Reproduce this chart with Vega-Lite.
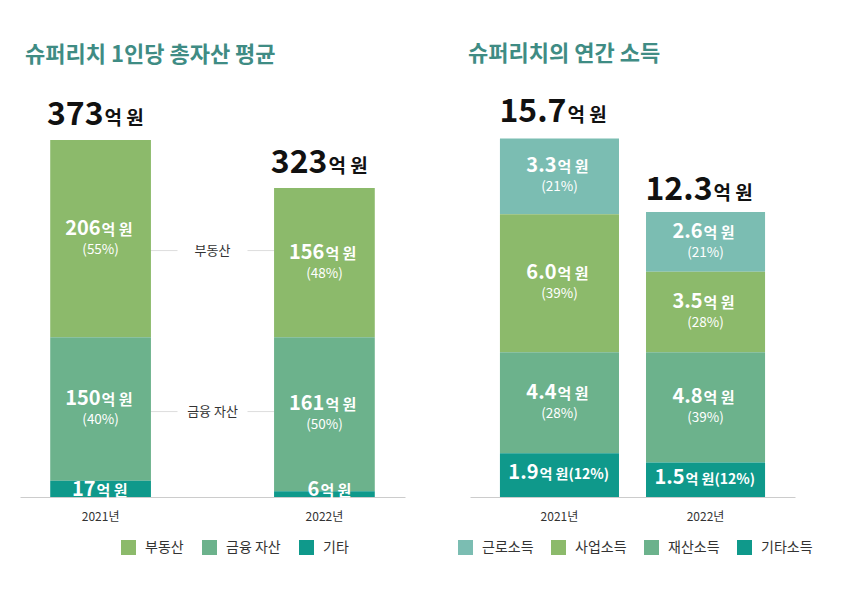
{
  "$schema": "https://vega.github.io/schema/vega-lite/v6.json",
  "background": "white",
  "padding": {"left": 20, "top": 43, "right": 20, "bottom": 10},
  "spacing": 53,
  "datasets": {
    "assets": [
      {"year": "2021년", "cat": "부동산", "v": 206, "pct": "(55%)"},
      {"year": "2021년", "cat": "금융 자산", "v": 150, "pct": "(40%)"},
      {"year": "2021년", "cat": "기타", "v": 17, "pct": ""},
      {"year": "2022년", "cat": "부동산", "v": 156, "pct": "(48%)"},
      {"year": "2022년", "cat": "금융 자산", "v": 161, "pct": "(50%)"},
      {"year": "2022년", "cat": "기타", "v": 6, "pct": ""}
    ],
    "assetTotals": [
      {"year": "2021년", "total": 373},
      {"year": "2022년", "total": 323}
    ],
    "income": [
      {"year": "2021년", "cat": "근로소득", "v": 3.3, "pct": "(21%)"},
      {"year": "2021년", "cat": "사업소득", "v": 6.0, "pct": "(39%)"},
      {"year": "2021년", "cat": "재산소득", "v": 4.4, "pct": "(28%)"},
      {"year": "2021년", "cat": "기타소득", "v": 1.9, "pct": "(12%)"},
      {"year": "2022년", "cat": "근로소득", "v": 2.6, "pct": "(21%)"},
      {"year": "2022년", "cat": "사업소득", "v": 3.5, "pct": "(28%)"},
      {"year": "2022년", "cat": "재산소득", "v": 4.8, "pct": "(39%)"},
      {"year": "2022년", "cat": "기타소득", "v": 1.5, "pct": "(12%)"}
    ],
    "incomeTotals": [
      {"year": "2021년", "total": 15.7},
      {"year": "2022년", "total": 12.3}
    ]
  },
  "hconcat": [
    {
      "width": 385,
      "height": 400,
      "title": {"text": "슈퍼리치 1인당 총자산 평균", "anchor": "start", "frame": "group", "fontSize": 22, "fontWeight": "bold", "color": "#3f8c84", "offset": 30, "dx": 5},
      "encoding": {
        "x": {
          "field": "year", "type": "nominal", "title": null,
          "scale": {"domain": ["2021년", "mid", "2022년"], "paddingInner": 0.1, "paddingOuter": 0.27},
          "axis": {"labelExpr": "datum.value == 'mid' ? '' : datum.value", "labelAngle": 0, "ticks": false, "domainColor": "#cccccc", "labelFontSize": 12, "labelColor": "#333333", "labelPadding": 14}
        }
      },
      "layer": [
        {
          "data": {"name": "assets"},
          "transform": [
            {"calculate": "indexof(['기타','금융 자산','부동산'], datum.cat)", "as": "ord"},
            {"stack": "v", "groupby": ["year"], "sort": [{"field": "ord"}], "as": ["v0", "v1"]},
            {"calculate": "(datum.v0+datum.v1)/2", "as": "mid"},
            {"aggregate": [{"op": "mean", "field": "mid", "as": "mid"}], "groupby": ["cat"]},
            {"filter": "datum.cat != '기타'"}
          ],
          "mark": {"type": "rule", "color": "#dddddd", "strokeWidth": 1},
          "encoding": {
            "x": {"datum": "2021년", "type": "nominal"},
            "x2": {"datum": "2022년"},
            "y": {"field": "mid", "type": "quantitative", "scale": {"domain": [0, 418]}, "axis": null}
          }
        },
        {
          "data": {"name": "assets"},
          "transform": [
            {"calculate": "indexof(['기타','금융 자산','부동산'], datum.cat)", "as": "ord"},
            {"stack": "v", "groupby": ["year"], "sort": [{"field": "ord"}], "as": ["v0", "v1"]}
          ],
          "mark": {"type": "bar"},
          "encoding": {
            "y": {"field": "v1", "type": "quantitative", "scale": {"domain": [0, 418]}, "axis": null},
            "y2": {"field": "v0"},
            "color": {
              "field": "cat", "type": "nominal",
              "scale": {"domain": ["부동산", "금융 자산", "기타"], "range": ["#8cba6b", "#6cb28c", "#0f998b"]},
              "legend": {"orient": "none", "legendX": 101, "legendY": 443, "direction": "horizontal", "title": null, "symbolType": "square", "symbolSize": 225, "symbolStrokeWidth": 0, "labelFontSize": 14, "labelColor": "#333333", "columnPadding": 18, "labelOffset": 9}
            }
          }
        },
        {
          "data": {"name": "assets"},
          "transform": [
            {"calculate": "indexof(['기타','금융 자산','부동산'], datum.cat)", "as": "ord"},
            {"stack": "v", "groupby": ["year"], "sort": [{"field": "ord"}], "as": ["v0", "v1"]},
            {"calculate": "(datum.v0+datum.v1)/2", "as": "mid"},
            {"aggregate": [{"op": "mean", "field": "mid", "as": "mid"}], "groupby": ["cat"]},
            {"filter": "datum.cat != '기타'"}
          ],
          "mark": {"type": "point", "shape": "M-1,-0.3L1,-0.3L1,0.3L-1,0.3Z", "filled": true, "color": "white", "opacity": 1, "size": 4900},
          "encoding": {
            "x": {"datum": "mid", "type": "nominal"},
            "y": {"field": "mid", "type": "quantitative", "scale": {"domain": [0, 418]}}
          }
        },
        {
          "data": {"name": "assets"},
          "transform": [
            {"calculate": "indexof(['기타','금융 자산','부동산'], datum.cat)", "as": "ord"},
            {"stack": "v", "groupby": ["year"], "sort": [{"field": "ord"}], "as": ["v0", "v1"]},
            {"calculate": "(datum.v0+datum.v1)/2", "as": "mid"},
            {"aggregate": [{"op": "mean", "field": "mid", "as": "mid"}], "groupby": ["cat"]},
            {"filter": "datum.cat != '기타'"}
          ],
          "mark": {"type": "text", "fontSize": 13, "color": "#333333"},
          "encoding": {
            "x": {"datum": "mid", "type": "nominal"},
            "y": {"field": "mid", "type": "quantitative", "scale": {"domain": [0, 418]}},
            "text": {"field": "cat"}
          }
        },
        {
          "data": {"name": "assets"},
          "transform": [
            {"calculate": "indexof(['기타','금융 자산','부동산'], datum.cat)", "as": "ord"},
            {"stack": "v", "groupby": ["year"], "sort": [{"field": "ord"}], "as": ["v0", "v1"]},
            {"calculate": "(datum.v0+datum.v1)/2", "as": "mid"},
            {"filter": "datum.cat != '기타'"}
          ],
          "layer": [
            {
              "mark": {"type": "text", "fontSize": 20, "fontWeight": "bold", "color": "white", "align": "right", "baseline": "alphabetic", "dx": 0, "dy": -4},
              "encoding": {"text": {"field": "v", "format": "d"}}
            },
            {
              "mark": {"type": "text", "text": "억 원", "fontSize": 15, "fontWeight": "bold", "color": "white", "align": "left", "baseline": "alphabetic", "dx": 1, "dy": -4}
            },
            {
              "mark": {"type": "text", "fontSize": 13.5, "color": "white", "baseline": "middle", "dy": 11},
              "encoding": {"text": {"field": "pct"}}
            }
          ],
          "encoding": {
            "y": {"field": "mid", "type": "quantitative", "scale": {"domain": [0, 418]}}
          }
        },
        {
          "data": {"name": "assets"},
          "transform": [
            {"calculate": "indexof(['기타','금융 자산','부동산'], datum.cat)", "as": "ord"},
            {"stack": "v", "groupby": ["year"], "sort": [{"field": "ord"}], "as": ["v0", "v1"]},
            {"filter": "datum.cat == '기타'"},
            {"calculate": "max((datum.v0+datum.v1)/2, 8.5)", "as": "mid"}
          ],
          "layer": [
            {
              "mark": {"type": "text", "fontSize": 20, "fontWeight": "bold", "color": "white", "align": "right", "baseline": "alphabetic", "dx": -5, "dy": 7},
              "encoding": {"text": {"field": "v", "format": "d"}}
            },
            {
              "mark": {"type": "text", "text": "억 원", "fontSize": 15, "fontWeight": "bold", "color": "white", "align": "left", "baseline": "alphabetic", "dx": -4, "dy": 7}
            }
          ],
          "encoding": {
            "y": {"field": "mid", "type": "quantitative", "scale": {"domain": [0, 418]}}
          }
        },
        {
          "data": {"name": "assetTotals"},
          "layer": [
            {
              "mark": {"type": "text", "fontSize": 32, "fontWeight": "bold", "color": "#111111", "align": "right", "baseline": "alphabetic", "dx": 3, "dy": -15},
              "encoding": {"text": {"field": "total", "format": "d"}}
            },
            {
              "mark": {"type": "text", "text": "억 원", "fontSize": 19, "fontWeight": "bold", "color": "#111111", "align": "left", "baseline": "alphabetic", "dx": 4, "dy": -15}
            }
          ],
          "encoding": {
            "y": {"field": "total", "type": "quantitative", "scale": {"domain": [0, 418]}}
          }
        }
      ]
    },
    {
      "width": 325,
      "height": 400,
      "title": {"text": "슈퍼리치의 연간 소득", "anchor": "start", "frame": "group", "fontSize": 22, "fontWeight": "bold", "color": "#3f8c84", "offset": 30, "dx": -2},
      "encoding": {
        "x": {
          "field": "year", "type": "nominal", "title": null,
          "scale": {"domain": ["2021년", "2022년"], "paddingInner": 0.185, "paddingOuter": 0.205},
          "axis": {"labelAngle": 0, "ticks": false, "domainColor": "#cccccc", "labelFontSize": 12, "labelColor": "#333333", "labelPadding": 14}
        }
      },
      "layer": [
        {
          "data": {"name": "income"},
          "transform": [
            {"calculate": "indexof(['기타소득','재산소득','사업소득','근로소득'], datum.cat)", "as": "ord"},
            {"stack": "v", "groupby": ["year"], "sort": [{"field": "ord"}], "as": ["v0", "v1"]}
          ],
          "mark": {"type": "bar"},
          "encoding": {
            "y": {"field": "v1", "type": "quantitative", "scale": {"domain": [0, 17.4]}, "axis": null},
            "y2": {"field": "v0"},
            "color": {
              "field": "cat", "type": "nominal",
              "scale": {"domain": ["근로소득", "사업소득", "재산소득", "기타소득"], "range": ["#7bbdb2", "#8cba6b", "#6cb28c", "#0f998b"]},
              "legend": {"orient": "none", "legendX": -12, "legendY": 443, "direction": "horizontal", "title": null, "symbolType": "square", "symbolSize": 225, "symbolStrokeWidth": 0, "labelFontSize": 14, "labelColor": "#333333", "columnPadding": 17, "labelOffset": 9}
            }
          }
        },
        {
          "data": {"name": "income"},
          "transform": [
            {"calculate": "indexof(['기타소득','재산소득','사업소득','근로소득'], datum.cat)", "as": "ord"},
            {"stack": "v", "groupby": ["year"], "sort": [{"field": "ord"}], "as": ["v0", "v1"]},
            {"calculate": "(datum.v0+datum.v1)/2", "as": "mid"},
            {"filter": "datum.cat != '기타소득'"}
          ],
          "layer": [
            {
              "mark": {"type": "text", "fontSize": 20, "fontWeight": "bold", "color": "white", "align": "right", "baseline": "alphabetic", "dx": -3, "dy": -4},
              "encoding": {"text": {"field": "v", "format": ".1f"}}
            },
            {
              "mark": {"type": "text", "text": "억 원", "fontSize": 15, "fontWeight": "bold", "color": "white", "align": "left", "baseline": "alphabetic", "dx": -2, "dy": -4}
            },
            {
              "mark": {"type": "text", "fontSize": 13.5, "color": "white", "baseline": "middle", "dy": 11},
              "encoding": {"text": {"field": "pct"}}
            }
          ],
          "encoding": {
            "y": {"field": "mid", "type": "quantitative", "scale": {"domain": [0, 17.4]}}
          }
        },
        {
          "data": {"name": "income"},
          "transform": [
            {"calculate": "indexof(['기타소득','재산소득','사업소득','근로소득'], datum.cat)", "as": "ord"},
            {"stack": "v", "groupby": ["year"], "sort": [{"field": "ord"}], "as": ["v0", "v1"]},
            {"calculate": "(datum.v0+datum.v1)/2", "as": "mid"},
            {"filter": "datum.cat == '기타소득'"},
            {"calculate": "'억 원' + datum.pct", "as": "unit"}
          ],
          "layer": [
            {
              "mark": {"type": "text", "fontSize": 20, "fontWeight": "bold", "color": "white", "align": "right", "baseline": "alphabetic", "dx": -21, "dy": 4},
              "encoding": {"text": {"field": "v", "format": ".1f"}}
            },
            {
              "mark": {"type": "text", "fontSize": 14, "fontWeight": "bold", "color": "white", "align": "left", "baseline": "alphabetic", "dx": -20, "dy": 4},
              "encoding": {"text": {"field": "unit"}}
            }
          ],
          "encoding": {
            "y": {"field": "mid", "type": "quantitative", "scale": {"domain": [0, 17.4]}}
          }
        },
        {
          "data": {"name": "incomeTotals"},
          "layer": [
            {
              "mark": {"type": "text", "fontSize": 32, "fontWeight": "bold", "color": "#111111", "align": "right", "baseline": "alphabetic", "dx": 7, "dy": -14},
              "encoding": {"text": {"field": "total", "format": ".1f"}}
            },
            {
              "mark": {"type": "text", "text": "억 원", "fontSize": 19, "fontWeight": "bold", "color": "#111111", "align": "left", "baseline": "alphabetic", "dx": 8, "dy": -14}
            }
          ],
          "encoding": {
            "y": {"field": "total", "type": "quantitative", "scale": {"domain": [0, 17.4]}}
          }
        }
      ]
    }
  ],
  "resolve": {"scale": {"color": "independent", "x": "independent", "y": "independent"}, "legend": {"color": "independent"}},
  "config": {
    "font": "Noto Sans CJK KR",
    "view": {"stroke": null},
    "legend": {"padding": 0, "labelFont": "Noto Sans CJK KR"},
    "axis": {"labelFont": "Noto Sans CJK KR", "grid": false},
    "title": {"font": "Noto Sans CJK KR"},
    "text": {"font": "Noto Sans CJK KR"}
  }
}
